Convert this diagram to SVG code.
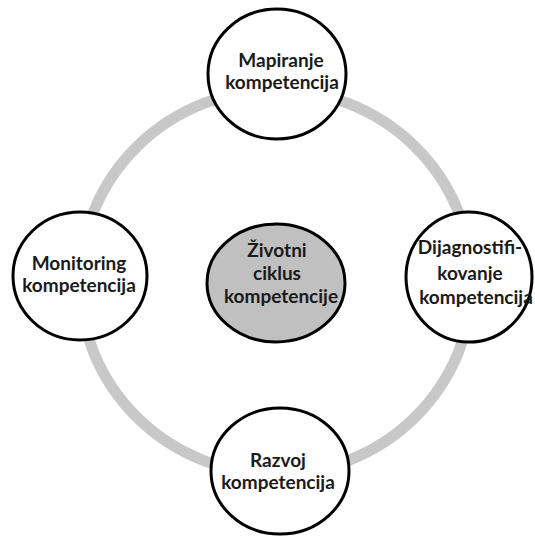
<svg xmlns="http://www.w3.org/2000/svg" width="535" height="537" viewBox="0 0 535 537">
  <style>
    .ring { fill: none; stroke: #c8c8c8; stroke-width: 11; }
    .node { fill: #ffffff; stroke: #000000; stroke-width: 3; }
    .hub { fill: #c0c0c0; stroke: #000000; stroke-width: 3; }
    text { font-family: Lato, "Open Sans", "Liberation Sans", sans-serif; font-weight: bold; font-size: 19px; fill: #1a1a1a; text-anchor: middle; }
  </style>
  <rect width="535" height="537" fill="#ffffff"/>

  <!-- cycle ring linking the four stages -->
  <g id="connectors">
    <ellipse class="ring" cx="276" cy="282" rx="196" ry="192"/>
  </g>

  <g id="hub">
    <ellipse class="hub" cx="276" cy="283" rx="69" ry="59"/>
    <text x="277" y="257">Životni</text>
    <text x="277" y="280">ciklus</text>
    <text x="281" y="303">kompetencije</text>
  </g>

  <g id="mapiranje">
    <ellipse class="node" cx="277" cy="74" rx="69" ry="65"/>
    <text x="281" y="67">Mapiranje</text>
    <text x="282" y="89">kompetencija</text>
  </g>

  <g id="dijagnostifikovanje">
    <ellipse class="node" cx="469" cy="277" rx="63" ry="65"/>
    <text x="470" y="254">Dijagnostifi-</text>
    <text x="470" y="280">kovanje</text>
    <text x="476" y="304">kompetencija</text>
  </g>

  <g id="razvoj">
    <ellipse class="node" cx="280" cy="471" rx="69" ry="63"/>
    <text x="278" y="467">Razvoj</text>
    <text x="278" y="489">kompetencija</text>
  </g>

  <g id="monitoring">
    <ellipse class="node" cx="80" cy="276" rx="67" ry="64"/>
    <text x="79" y="270">Monitoring</text>
    <text x="79" y="292">kompetencija</text>
  </g>
</svg>
